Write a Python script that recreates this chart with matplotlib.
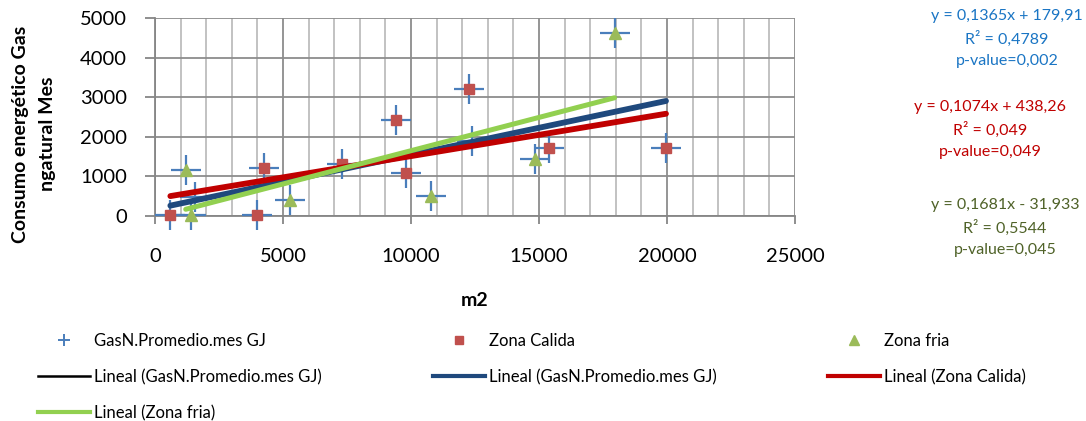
import matplotlib
matplotlib.use("Agg")
import matplotlib.pyplot as plt
from matplotlib.lines import Line2D
import numpy as np

# ---- data -------------------------------------------------------------
# all buildings (surface m2, monthly natural gas GJ)
gas_x = [600, 1200, 1400, 1560, 3970, 4260, 5280, 7290, 9400, 9800,
         10770, 12270, 12380, 14850, 15390, 17950, 19960]
gas_y = [20, 1160, 30, 480, 20, 1220, 410, 1320, 2430, 1080,
         500, 3200, 1890, 1450, 1710, 4630, 1720]

# warm zone subset
calida_x = [600, 3970, 4260, 7290, 9400, 9800, 12270, 15390, 19960]
calida_y = [20, 20, 1220, 1320, 2430, 1080, 3200, 1710, 1720]

# cold zone subset
fria_x = [1200, 1400, 5280, 10770, 14850, 17950]
fria_y = [1160, 30, 410, 500, 1450, 4630]

# linear fits: (slope, intercept, R2, p-value)
fit_gas = (0.1365, 179.91, "0,4789", "0,002")
fit_calida = (0.1074, 438.26, "0,049", "0,049")
fit_fria = (0.1681, -31.933, "0,5544", "0,045")

x_ticks = [0, 5000, 10000, 15000, 20000, 25000]
y_ticks = [0, 1000, 2000, 3000, 4000, 5000]

# ---- style -----------------------------------------------------------
FONT = ["Lato", "DejaVu Sans"]
plt.rcParams["font.family"] = FONT

C_PLUS = "#4A7EBB"
C_SQ = "#C0504D"
C_TRI = "#9BBB59"
C_LGAS = "#1F497D"
C_LCAL = "#C00000"
C_LFRIA = "#92D050"

W, H = 1086, 421
fig = plt.figure(figsize=(W / 100, H / 100), dpi=100)
ax = fig.add_axes([155 / W, 1 - 216 / H, 640 / W, 198 / H])

ax.set_xlim(0, 25000)
ax.set_ylim(0, 5000)

# grid
for xv in range(0, 25001, 1000):
    major = xv % 5000 == 0
    ax.axvline(xv, color="#8C8C8C" if major else "#BDBDBD",
               lw=1.3, zorder=0)
for yv in y_ticks:
    ax.axhline(yv, color="#8C8C8C", lw=1.3, zorder=0)

for s in ["top", "right"]:
    ax.spines[s].set_visible(False)
for s in ["left", "bottom"]:
    ax.spines[s].set_color("#868686")
    ax.spines[s].set_linewidth(1.3)

ax.set_xticks(x_ticks)
ax.set_yticks(y_ticks)
ax.tick_params(axis="x", length=6, width=1.3, color="#868686",
               labelsize=14.5, pad=17)
ax.tick_params(axis="y", length=7, width=1.3, color="#868686",
               labelsize=14.5, pad=13)

# scatter series
ax.plot(gas_x, gas_y, linestyle="none", marker="+", markersize=22,
        markeredgewidth=1.6, color=C_PLUS, clip_on=False, zorder=3)
ax.plot(calida_x, calida_y, linestyle="none", marker="s", markersize=7.5,
        color=C_SQ, clip_on=False, zorder=4)
ax.plot(fria_x, fria_y, linestyle="none", marker="^", markersize=8.5,
        color=C_TRI, clip_on=False, zorder=4)


def trend(xs, fit):
    xx = np.array([min(xs), max(xs)], dtype=float)
    return xx, fit[0] * xx + fit[1]


tx, ty = trend(gas_x, fit_gas)
ax.plot(tx, ty, color="black", lw=1.2, zorder=5)
ax.plot(tx, ty, color=C_LGAS, lw=4.2, solid_capstyle="round", zorder=6)
tx, ty = trend(calida_x, fit_calida)
ax.plot(tx, ty, color=C_LCAL, lw=4.2, solid_capstyle="round", zorder=7)
tx, ty = trend(fria_x, fit_fria)
ax.plot(tx, ty, color=C_LFRIA, lw=3.6, solid_capstyle="round", zorder=8)

# axis titles
fig.text(475 / W, 1 - 300 / H, "m2", ha="center", va="center",
         fontsize=14, fontweight="bold")
fig.text(34 / W, 1 - 134 / H, "Consumo energético Gas\nngatural Mes",
         rotation=90, ha="center", va="center", multialignment="center",
         fontsize=14, fontweight="bold", linespacing=1.7)


# regression annotations
def fmt_eq(fit):
    a, b = fit[0], fit[1]
    sa = f"{a:.4f}".replace(".", ",")
    sign = "+" if b >= 0 else "-"
    sb = f"{abs(b):g}".replace(".", ",")
    return f"y = {sa}x {sign} {sb}"


blocks = [(fit_gas, "#1A75C4", 1007, 16),
          (fit_calida, "#C00000", 990, 107),
          (fit_fria, "#4F6228", 1005, 205)]
for fit, col, cx, y0 in blocks:
    lines = [fmt_eq(fit), f"R² = {fit[2]}", f"p-value={fit[3]}"]
    for i, t in enumerate(lines):
        fig.text(cx / W, 1 - (y0 + 22.5 * i) / H, t, ha="center",
                 va="center", fontsize=11.5, color=col)

# legend: three columns laid out row by row
h_plus = Line2D([], [], linestyle="none", marker="+", markersize=9,
                markeredgewidth=1.4, color=C_PLUS)
h_sq = Line2D([], [], linestyle="none", marker="s", markersize=6,
              color=C_SQ)
h_tri = Line2D([], [], linestyle="none", marker="^", markersize=6.5,
               color=C_TRI)
h_black = Line2D([], [], color="black", lw=1.8)
h_gas = Line2D([], [], color=C_LGAS, lw=3)
h_cal = Line2D([], [], color=C_LCAL, lw=3)
h_fria = Line2D([], [], color=C_LFRIA, lw=3)

columns = [
    (38, [h_plus, h_black, h_fria],
     ["GasN.Promedio.mes GJ", "Lineal (GasN.Promedio.mes GJ)",
      "Lineal (Zona fria)"]),
    (433, [h_sq, h_gas],
     ["Zona Calida", "Lineal (GasN.Promedio.mes GJ)"]),
    (828, [h_tri, h_cal],
     ["Zona fria", "Lineal (Zona Calida)"]),
]
for x0, hs, ls in columns:
    fig.legend(hs, ls, loc="upper left",
               bbox_to_anchor=(x0 / W, 1 - 333 / H),
               frameon=False, borderpad=0, borderaxespad=0,
               handlelength=3.1, handletextpad=0.25, labelspacing=1.2,
               prop={"family": FONT, "size": 12})

fig.savefig("out.png", dpi=100)
